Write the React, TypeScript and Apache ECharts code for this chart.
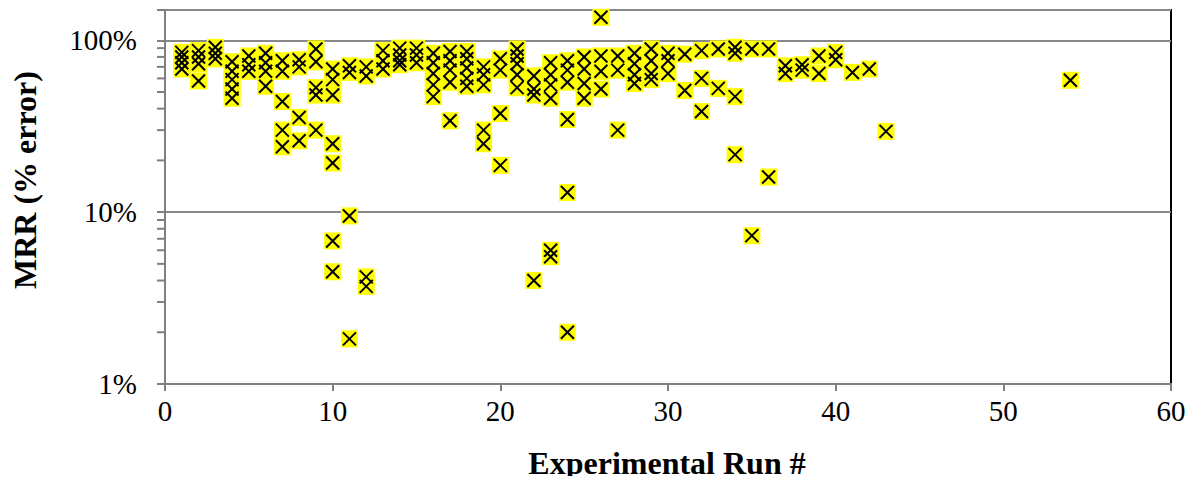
import React, { useEffect, useRef } from "react";
import * as echarts from "echarts";

// Experimental run numbers and the MRR (% error) values observed for each run
const runIds = [
  1, 2, 3, 4, 5, 6, 7, 8, 9, 10, 11, 12, 13, 14, 15, 16, 17, 18, 19, 20, 21, 22,
  23, 24, 25, 26, 27, 28, 29, 30, 31, 32, 33, 34, 35, 36, 37, 38, 39, 40, 41, 42,
  43, 54,
];
const mrrValues: number[][] = [
  [85, 80, 74, 68],
  [87, 80, 73, 58],
  [91, 84, 78],
  [75, 66, 59, 52, 46],
  [81, 72, 66],
  [84, 74, 66, 54],
  [76, 66, 44, 30, 24],
  [77, 70, 35.5, 26],
  [89, 75, 53, 48, 30],
  [68, 59, 48, 25, 19.3, 6.8, 4.5],
  [71, 65, 9.5, 1.83],
  [70, 62, 4.2, 3.7],
  [87, 76, 68],
  [90, 82, 76, 72],
  [90, 82, 74],
  [84, 74, 64, 55, 47],
  [86, 76, 67, 57, 34],
  [86, 78, 69, 60, 54],
  [70, 63, 55, 30, 25],
  [78, 67, 37.5, 18.7],
  [89, 81, 73, 63, 53],
  [62, 52, 48, 4.0],
  [74, 63, 55, 46, 6.0, 5.5],
  [76, 67, 57, 34.6, 13, 2.0],
  [80, 68, 56, 46],
  [136, 81, 66, 52],
  [81, 67, 30],
  [84, 73, 63, 56],
  [89, 76, 64, 59],
  [84, 76, 64],
  [83, 51],
  [87, 60, 38.5],
  [89, 52.5],
  [91, 84, 47, 21.6],
  [89, 7.3],
  [89, 16],
  [71, 64],
  [72, 67],
  [81, 64],
  [85, 77],
  [65],
  [68],
  [29.5],
  [58.5],
];

// Minor tick positions on the log axis
const minorTickValues = [2, 3, 4, 5, 6, 7, 8, 9, 20, 30, 40, 50, 60, 70, 80, 90];

const FONT = "'Liberation Serif', 'Times New Roman', serif";

export default function App() {
  const ref = useRef<HTMLDivElement>(null);

  useEffect(() => {
    if (!ref.current) return;
    const chart = echarts.init(ref.current, null, { renderer: "svg" });

    const points: [number, number][] = [];
    runIds.forEach((r, i) => {
      mrrValues[i].forEach((v) => points.push([r, v]));
    });

    const isPow10 = (v: number) =>
      Math.abs(Math.log10(v) - Math.round(Math.log10(v))) < 1e-6;

    const H = 8.5;
    const D = 6.5;

    chart.setOption({
      animation: false,
      backgroundColor: "#ffffff",
      grid: {
        left: 165,
        right: 23,
        top: 10,
        bottom: 100,
        show: true,
        borderColor: "#000000",
        borderWidth: 2,
        backgroundColor: "transparent",
      },
      xAxis: {
        type: "value",
        min: 0,
        max: 60,
        interval: 10,
        axisLine: { show: true, lineStyle: { color: "#808080", width: 2 } },
        axisTick: { show: true, length: 7, lineStyle: { color: "#808080", width: 2 } },
        axisLabel: {
          color: "#000",
          fontFamily: FONT,
          fontSize: 29,
          margin: 12,
        },
        splitLine: { show: false },
      },
      yAxis: {
        type: "log",
        logBase: 10,
        min: 1,
        max: 150,
        axisLine: { show: true, lineStyle: { color: "#808080", width: 2 } },
        axisTick: { show: true, length: 8, lineStyle: { color: "#808080", width: 2 } },
        axisLabel: {
          color: "#000",
          fontFamily: FONT,
          fontSize: 29,
          margin: 28,
          formatter: (v: number) => (isPow10(v) ? `${Math.round(v)}%` : ""),
        },
        splitLine: {
          show: true,
          lineStyle: { color: "#888888", width: 2 },
        },
      },
      series: [
        {
          type: "custom",
          clip: false,
          silent: true,
          data: minorTickValues.map((v) => [0, v]),
          renderItem: (params: any, api: any) => {
            const p = api.coord([api.value(0), api.value(1)]);
            return {
              type: "line",
              shape: { x1: p[0] - 8, y1: p[1], x2: p[0], y2: p[1] },
              style: { stroke: "#808080", lineWidth: 2 },
            };
          },
        },
        {
          type: "custom",
          clip: false,
          silent: true,
          z: 3,
          data: points,
          renderItem: (params: any, api: any) => {
            const p = api.coord([api.value(0), api.value(1)]);
            return {
              type: "rect",
              shape: { x: p[0] - H, y: p[1] - H, width: 2 * H, height: 2 * H },
              style: { fill: "#ffff00" },
            };
          },
        },
        {
          type: "custom",
          clip: false,
          silent: true,
          z: 4,
          data: points,
          renderItem: (params: any, api: any) => {
            const p = api.coord([api.value(0), api.value(1)]);
            return {
              type: "group",
              children: [
                {
                  type: "line",
                  shape: { x1: p[0] - D, y1: p[1] - D, x2: p[0] + D, y2: p[1] + D },
                  style: { stroke: "#000000", lineWidth: 2 },
                },
                {
                  type: "line",
                  shape: { x1: p[0] - D, y1: p[1] + D, x2: p[0] + D, y2: p[1] - D },
                  style: { stroke: "#000000", lineWidth: 2 },
                },
              ],
            };
          },
        },
      ],
      graphic: [
        {
          type: "text",
          x: 667,
          y: 463,
          style: {
            text: "Experimental Run #",
            font: `bold 32px ${FONT}`,
            fill: "#000",
            align: "center",
            verticalAlign: "middle",
          },
        },
        {
          type: "text",
          x: 25,
          y: 180,
          rotation: Math.PI / 2,
          style: {
            text: "MRR (% error)",
            font: `bold 32px ${FONT}`,
            fill: "#000",
            align: "center",
            verticalAlign: "middle",
          },
        },
      ],
    });

    return () => chart.dispose();
  }, []);

  return <div ref={ref} style={{ width: 1194, height: 484, margin: -8 }} />;
}
